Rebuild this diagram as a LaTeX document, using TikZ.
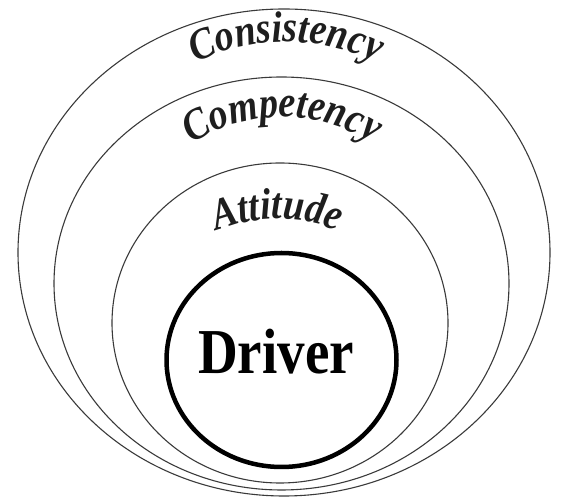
\documentclass[tikz,border=0pt]{standalone}
\usepackage{fontspec}
\setmainfont{Liberation Serif}
\newfontfamily\tallserif{Liberation Serif}[FakeStretch=0.86]
\usetikzlibrary{decorations.text}
\definecolor{ink}{HTML}{1E1E1E}
\definecolor{rim}{HTML}{3A3A3A}
\newcommand{\ringfont}{\tallserif\fontsize{44}{46}\selectfont\bfseries\itshape}
\tikzset{
  ring/.style={draw=rim,line width=1.1pt},
  core/.style={draw=black,line width=4.5pt},
  arclabel/.style={decorate,decoration={text along path,text={|\ringfont|#1},
    text color=ink,text align=center}},
}

\begin{document}
\begin{tikzpicture}[x=1pt,y=1pt]
    \useasboundingbox (0,0) rectangle (562,497);
    \coordinate (cons) at (284,244.5);
    \coordinate (comp) at (281.5,213.5);
    \coordinate (att)  at (280,174);
    \coordinate (drv)  at (281.5,137);
    \draw[ring] (cons) ellipse [x radius=266pt,y radius=243.5pt];
    \draw[ring] (comp) ellipse [x radius=227.5pt,y radius=206.5pt];
    \draw[ring] (att)  ellipse [x radius=168pt,y radius=160pt];
    \draw[core] (drv)  ellipse [x radius=115pt,y radius=107pt];
    \node[font=\tallserif\fontsize{64}{66}\selectfont\bfseries,text=black] (driver) at (276,145) {Driver};
    \path[arclabel=Consistency] (286,245) ++(150:210pt) arc[start angle=150,end angle=30,radius=210pt];
    \path[arclabel=Competency]  (282,212) ++(150:168pt) arc[start angle=150,end angle=30,radius=168pt];
    \path[arclabel=Attitude]    (277,118) ++(150:160pt) arc[start angle=150,end angle=30,radius=160pt];
  \end{tikzpicture}
\end{document}
